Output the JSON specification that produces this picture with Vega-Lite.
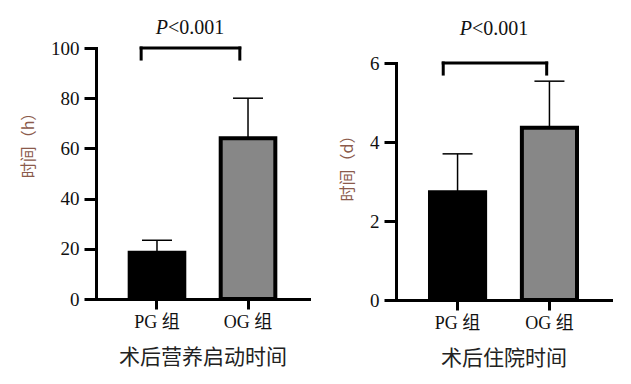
{
  "$schema": "https://vega.github.io/schema/vega-lite/v6.json",
  "background": "white",
  "padding": {"left": 20, "top": 17, "right": 5, "bottom": 5},
  "spacing": 30,
  "config": {
    "view": {"stroke": null},
    "axis": {
      "grid": false,
      "domainColor": "#000000",
      "domainWidth": 3,
      "domainCap": "square",
      "tickColor": "#000000",
      "tickWidth": 3,
      "labelFont": "Liberation Serif, Noto Sans CJK SC",
      "labelColor": "#111111",
      "labelFontSize": 19,
      "titleFont": "Noto Sans CJK SC",
      "titleFontWeight": "normal"
    },
    "axisX": {"labelAngle": 0, "tickSize": 10, "labelPadding": 4, "labelFontSize": 18, "titlePadding": 15, "titleColor": "#222222", "titleFontSize": 21},
    "axisY": {"tickSize": 12, "labelPadding": 5, "titleColor": "#8b5a4b", "titlePadding": 14, "titleFontSize": 16}
  },
  "hconcat": [
    {
      "width": 213,
      "height": 251,
      "layer": [
        {
          "data": {"values": [
            {"g": "PG 组", "v": 18.4, "err": 23.4},
            {"g": "OG 组", "v": 64.0, "err": 80.0}
          ]},
          "layer": [
            {
              "mark": {"type": "bar", "stroke": "#000000", "strokeWidth": 4},
              "encoding": {
                "x": {"field": "g", "type": "nominal", "title": "术后营养启动时间", "scale": {"domain": ["PG 组", "OG 组"], "paddingInner": 0.4, "paddingOuter": 0.37}},
                "y": {"field": "v", "type": "quantitative", "title": "时间（h）", "scale": {"domain": [0, 100], "nice": false}, "axis": {"values": [0, 20, 40, 60, 80, 100], "titleY": 93}},
                "color": {"field": "g", "type": "nominal", "scale": {"domain": ["PG 组", "OG 组"], "range": ["#000000", "#878787"]}, "legend": null}
              }
            },
            {
              "mark": {"type": "rule", "strokeWidth": 1.5, "color": "#000000"},
              "encoding": {
                "x": {"field": "g", "type": "nominal", "title": "术后营养启动时间"},
                "y": {"field": "v", "type": "quantitative", "title": "时间（h）"},
                "y2": {"field": "err"}
              }
            },
            {
              "mark": {"type": "tick", "thickness": 1.5, "size": 30, "color": "#000000", "opacity": 1},
              "encoding": {
                "x": {"field": "g", "type": "nominal", "title": "术后营养启动时间"},
                "y": {"field": "err", "type": "quantitative", "title": "时间（h）"}
              }
            }
          ]
        },
        {
          "data": {"values": [
            {"from": "PG 组", "to": "OG 组", "top": 100, "leg": 95.6, "p": "P", "rest": "<0.001"}
          ]},
          "layer": [
            {
              "mark": {"type": "rule", "strokeWidth": 3, "color": "#000000", "strokeCap": "square"},
              "encoding": {
                "x": {"field": "from", "type": "nominal", "bandPosition": 0.21, "title": "术后营养启动时间"},
                "y": {"field": "leg", "type": "quantitative", "title": "时间（h）"},
                "y2": {"field": "top"}
              }
            },
            {
              "mark": {"type": "rule", "strokeWidth": 3, "color": "#000000", "strokeCap": "square"},
              "encoding": {
                "x": {"field": "to", "type": "nominal", "bandPosition": 0.35, "title": "术后营养启动时间"},
                "y": {"field": "leg", "type": "quantitative", "title": "时间（h）"},
                "y2": {"field": "top"}
              }
            },
            {
              "mark": {"type": "rule", "strokeWidth": 3, "color": "#000000", "strokeCap": "square"},
              "encoding": {
                "x": {"field": "from", "type": "nominal", "bandPosition": 0.21, "title": "术后营养启动时间"},
                "x2": {"field": "to", "bandPosition": 0.35},
                "y": {"field": "top", "type": "quantitative", "title": "时间（h）"}
              }
            },
            {
              "mark": {"type": "text", "font": "Liberation Serif", "fontStyle": "italic", "fontSize": 20, "align": "right", "baseline": "middle", "color": "#111111"},
              "encoding": {
                "x": {"field": "from", "type": "nominal", "bandPosition": 0.7, "title": "术后营养启动时间"},
                "y": {"datum": 108, "type": "quantitative"},
                "text": {"field": "p"}
              }
            },
            {
              "mark": {"type": "text", "font": "Liberation Serif", "fontSize": 20, "align": "left", "baseline": "middle", "color": "#111111"},
              "encoding": {
                "x": {"field": "from", "type": "nominal", "bandPosition": 0.7, "title": "术后营养启动时间"},
                "y": {"datum": 108, "type": "quantitative"},
                "text": {"field": "rest"}
              }
            }
          ]
        }
      ]
    },
    {
      "width": 215,
      "height": 252,
      "layer": [
        {
          "data": {"values": [
            {"g": "PG 组", "v": 2.73, "err": 3.70},
            {"g": "OG 组", "v": 4.36, "err": 5.54}
          ]},
          "layer": [
            {
              "mark": {"type": "bar", "stroke": "#000000", "strokeWidth": 4},
              "encoding": {
                "x": {"field": "g", "type": "nominal", "title": "术后住院时间", "scale": {"domain": ["PG 组", "OG 组"], "paddingInner": 0.4, "paddingOuter": 0.37}},
                "y": {"field": "v", "type": "quantitative", "title": "时间（d）", "scale": {"domain": [0, 6], "nice": false, "range": [252, 15]}, "axis": {"values": [0, 2, 4, 6], "titleY": 116}},
                "color": {"field": "g", "type": "nominal", "scale": {"domain": ["PG 组", "OG 组"], "range": ["#000000", "#878787"]}, "legend": null}
              }
            },
            {
              "mark": {"type": "rule", "strokeWidth": 1.5, "color": "#000000"},
              "encoding": {
                "x": {"field": "g", "type": "nominal", "title": "术后住院时间"},
                "y": {"field": "v", "type": "quantitative", "title": "时间（d）"},
                "y2": {"field": "err"}
              }
            },
            {
              "mark": {"type": "tick", "thickness": 1.5, "size": 30, "color": "#000000", "opacity": 1},
              "encoding": {
                "x": {"field": "g", "type": "nominal", "title": "术后住院时间"},
                "y": {"field": "err", "type": "quantitative", "title": "时间（d）"}
              }
            }
          ]
        },
        {
          "data": {"values": [
            {"from": "PG 组", "to": "OG 组", "top": 6.0, "leg": 5.72, "p": "P", "rest": "<0.001"}
          ]},
          "layer": [
            {
              "mark": {"type": "rule", "strokeWidth": 3, "color": "#000000", "strokeCap": "square"},
              "encoding": {
                "x": {"field": "from", "type": "nominal", "bandPosition": 0.24, "title": "术后住院时间"},
                "y": {"field": "leg", "type": "quantitative", "title": "时间（d）"},
                "y2": {"field": "top"}
              }
            },
            {
              "mark": {"type": "rule", "strokeWidth": 3, "color": "#000000", "strokeCap": "square"},
              "encoding": {
                "x": {"field": "to", "type": "nominal", "bandPosition": 0.45, "title": "术后住院时间"},
                "y": {"field": "leg", "type": "quantitative", "title": "时间（d）"},
                "y2": {"field": "top"}
              }
            },
            {
              "mark": {"type": "rule", "strokeWidth": 3, "color": "#000000", "strokeCap": "square"},
              "encoding": {
                "x": {"field": "from", "type": "nominal", "bandPosition": 0.24, "title": "术后住院时间"},
                "x2": {"field": "to", "bandPosition": 0.45},
                "y": {"field": "top", "type": "quantitative", "title": "时间（d）"}
              }
            },
            {
              "mark": {"type": "text", "font": "Liberation Serif", "fontStyle": "italic", "fontSize": 20, "align": "right", "baseline": "middle", "color": "#111111"},
              "encoding": {
                "x": {"field": "from", "type": "nominal", "bandPosition": 0.76, "title": "术后住院时间"},
                "y": {"datum": 6.86, "type": "quantitative"},
                "text": {"field": "p"}
              }
            },
            {
              "mark": {"type": "text", "font": "Liberation Serif", "fontSize": 20, "align": "left", "baseline": "middle", "color": "#111111"},
              "encoding": {
                "x": {"field": "from", "type": "nominal", "bandPosition": 0.76, "title": "术后住院时间"},
                "y": {"datum": 6.86, "type": "quantitative"},
                "text": {"field": "rest"}
              }
            }
          ]
        }
      ]
    }
  ]
}
